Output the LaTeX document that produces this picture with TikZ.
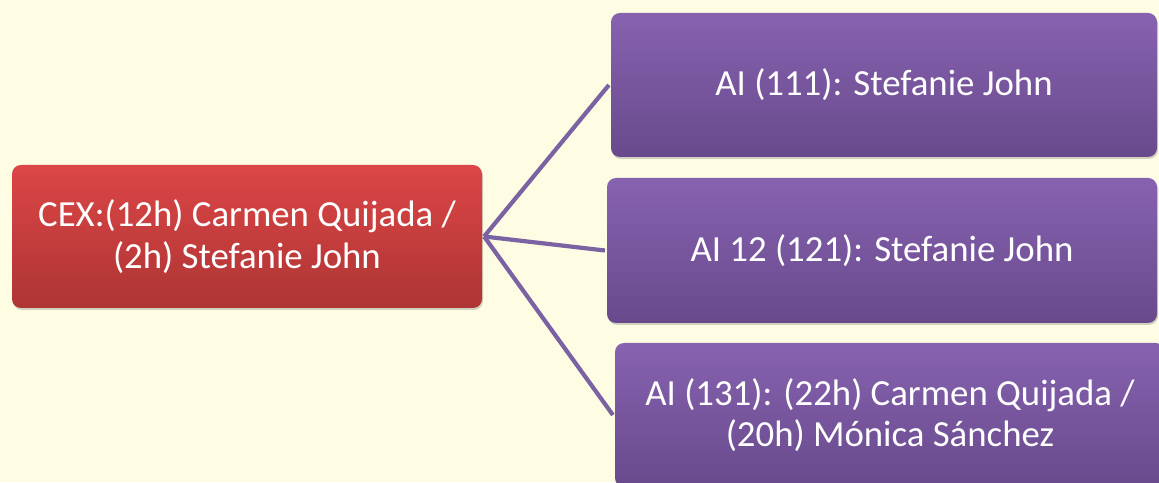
\documentclass[tikz,border=0pt]{standalone}
\usepackage{fontspec}
\setmainfont{Carlito}
\usepackage{xcolor}
\usepackage{tikz}
\usetikzlibrary{positioning}
\usetikzlibrary{shadows}

\definecolor{bgyellow}{HTML}{FEFDE3}
\definecolor{redtop}{HTML}{DC4646}
\definecolor{redbot}{HTML}{AE3434}
\definecolor{purtop}{HTML}{8762B0}
\definecolor{purbot}{HTML}{684A8C}
\definecolor{linkpur}{HTML}{7B62A3}

\begin{document}
\begin{tikzpicture}[x=1pt, y=1pt, line width=4.2pt,
    every node/.style={text=white, align=center, font=\fontsize{36.8}{41.5}\selectfont},
    box/.style={rectangle, rounded corners=9pt, inner sep=0pt,
        drop shadow={opacity=0.35, shadow xshift=1pt, shadow yshift=-2pt}}]
        \useasboundingbox (0,0) rectangle (1159,482);
        \fill[bgyellow] (0,0) rectangle (1159,482);

        \begin{scope}
        \clip (0,0) rectangle (1159,482);
        \node [box, top color=redtop, bottom color=redbot,
            minimum width=470pt, minimum height=143pt] (cex) at (247,245.5)
            {CEX:(12h) Carmen Quijada /\\(2h) Stefanie John};
        \node [box, top color=purtop, bottom color=purbot,
            minimum width=546pt, minimum height=144pt] (ai1) at (884,397)
            {AI (111): Stefanie John};
        \node [box, top color=purtop, bottom color=purbot,
            minimum width=550pt, minimum height=145pt] (ai2) at (882,231.5)
            {AI 12 (121): Stefanie John};
        \node [box, top color=purtop, bottom color=purbot,
            minimum width=550pt, minimum height=144pt] (ai3) at (890,67)
            {AI (131): (22h) Carmen Quijada /\\(20h) Mónica Sánchez};
        \end{scope}

        \path (cex.east) edge[linkpur] (ai1.west);
        \path (cex.east) edge[linkpur] (ai2.west);
        \path (cex.east) edge[linkpur] (ai3.west);
    \end{tikzpicture}
\end{document}
